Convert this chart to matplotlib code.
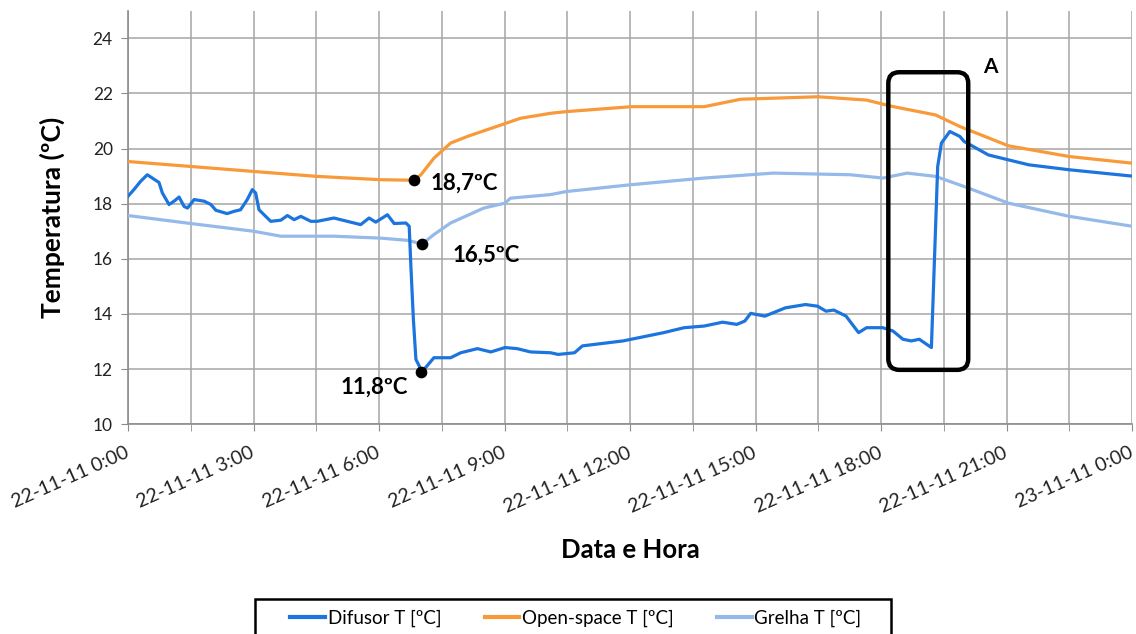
import numpy as np
import pandas as pd
import matplotlib
matplotlib.use('Agg')
import matplotlib.pyplot as plt
import matplotlib.dates as mdates
from matplotlib.patches import FancyBboxPatch, Rectangle
from matplotlib.transforms import IdentityTransform
from matplotlib.ticker import FuncFormatter

# hours after 22-11-11 0:00 and temperatures (ºC)
t_difusor = [0, 0.14, 0.30, 0.46, 0.74, 0.82, 0.98, 1.10, 1.22, 1.34, 1.42, 1.58, 1.82, 1.98,
             2.10, 2.37, 2.53, 2.69, 2.85, 2.97, 3.05, 3.13, 3.41, 3.65, 3.81, 3.97, 4.13, 4.37,
             4.52, 4.92, 5.24, 5.56, 5.76, 5.92, 6.20, 6.36, 6.64, 6.72, 6.76, 6.82, 6.88, 6.96,
             7.01, 7.11, 7.31, 7.71, 7.95, 8.35, 8.67, 9.01, 9.30, 9.62, 10.1, 10.28, 10.67,
             10.86, 11.83, 12.8, 13.29, 13.77, 14.21, 14.55, 14.74, 14.88, 15.22, 15.71, 16.19,
             16.48, 16.68, 16.87, 17.16, 17.46, 17.65, 18.04, 18.28, 18.52, 18.72, 18.91, 19.2,
             19.35, 19.44, 19.64, 19.88, 19.98, 20.56, 21.04, 21.53, 22.5, 24.0]
v_difusor = [18.27, 18.51, 18.81, 19.05, 18.77, 18.39, 17.97, 18.09, 18.24, 17.9, 17.84, 18.15,
             18.09, 17.97, 17.76, 17.64, 17.72, 17.78, 18.15, 18.51, 18.39, 17.78, 17.36, 17.40,
             17.57, 17.42, 17.54, 17.36, 17.36, 17.48, 17.36, 17.24, 17.48, 17.33, 17.60, 17.28,
             17.30, 17.18, 15.73, 13.8, 12.35, 12.11, 11.89, 12.05, 12.41, 12.41, 12.59, 12.74,
             12.62, 12.78, 12.74, 12.62, 12.59, 12.53, 12.59, 12.84, 13.02, 13.32, 13.5, 13.56,
             13.7, 13.62, 13.74, 14.02, 13.92, 14.22, 14.34, 14.28, 14.1, 14.14, 13.92, 13.32,
             13.5, 13.5, 13.38, 13.08, 13.02, 13.08, 12.78, 19.35, 20.2, 20.62, 20.44, 20.26,
             19.77, 19.59, 19.41, 19.23, 19.0]

t_open = [0, 1.5, 3.0, 4.52, 6.04, 6.84, 7.0, 7.31, 7.71, 8.11, 8.92, 9.38, 10.1, 10.47,
          12.03, 13.77, 14.64, 16.49, 17.65, 18.23, 19.3, 19.88, 21.04, 22.5, 24.0]
v_open = [19.53, 19.35, 19.17, 18.99, 18.87, 18.85, 19.05, 19.65, 20.2, 20.44, 20.86, 21.1,
          21.28, 21.34, 21.52, 21.52, 21.79, 21.88, 21.76, 21.54, 21.22, 20.8, 20.1, 19.71, 19.47]

t_grelha = [0, 1.5, 3.0, 3.65, 4.92, 6.04, 6.68, 7.03, 7.31, 7.71, 8.5, 9.01, 9.14, 10.1,
            10.47, 12.03, 13.77, 15.42, 17.26, 18.04, 18.62, 19.3, 19.97, 21.04, 22.5, 24.0]
v_grelha = [17.57, 17.28, 17.0, 16.82, 16.82, 16.75, 16.67, 16.54, 16.88, 17.3, 17.84, 18.02,
            18.2, 18.33, 18.44, 18.69, 18.93, 19.11, 19.05, 18.93, 19.11, 18.99, 18.63, 18.02,
            17.54, 17.18]

# highlighted points and their labels
pt_hours = [6.84, 7.03, 7.01]
pt_values = [18.85, 16.54, 11.89]
pt_labels = ['18,7ºC', '16,5ºC', '11,8ºC']

start = pd.Timestamp('2011-11-22 00:00')
to_dt = lambda h: start + pd.to_timedelta(np.array(h), unit='h')

plt.rcParams['font.family'] = ['Lato', 'DejaVu Sans']

fig = plt.figure(figsize=(11.36, 6.34), dpi=100)
ax = fig.add_axes([0.1127, 0.331, 0.884, 0.652])

c_dif = '#1C74DE'
c_open = '#F8993A'
c_grel = '#95B9E8'

ax.plot(to_dt(t_difusor), v_difusor, color=c_dif, lw=2.3, label='Difusor T [ºC]', zorder=4)
ax.plot(to_dt(t_open), v_open, color=c_open, lw=2.3, label='Open-space T [ºC]', zorder=3)
ax.plot(to_dt(t_grelha), v_grelha, color=c_grel, lw=2.3, label='Grelha T [ºC]', zorder=3)

ax.scatter(to_dt(pt_hours), pt_values, s=55, color='black', zorder=6)
lbl_offsets = [(12, -2), (22, -8), (-10, -11)]
lbl_ha = ['left', 'left', 'right']
for h, v, s, off, ha in zip(pt_hours, pt_values, pt_labels, lbl_offsets, lbl_ha):
    ax.annotate(s, (to_dt([h])[0], v), xytext=off, textcoords='offset points',
                ha=ha, va='center', fontsize=16, fontweight='bold', zorder=7)

ax.set_xlim(start, start + pd.Timedelta(hours=24))
ax.set_ylim(10, 25)
ax.set_yticks(np.arange(10, 25, 2))


def fmt(x, pos):
    d = mdates.num2date(x)
    return '%s %d:%02d' % (d.strftime('%d-%m-%y'), d.hour, d.minute)


ax.set_xticks([mdates.date2num(to_dt([h])[0]) for h in range(0, 25, 3)])
ax.set_xticks([mdates.date2num(to_dt([h])[0]) for h in np.arange(1.5, 24, 3)], minor=True)
ax.xaxis.set_major_formatter(FuncFormatter(fmt))

ax.grid(True, which='both', axis='x', color='#a6a6a6', lw=1.1)
ax.grid(True, which='major', axis='y', color='#a6a6a6', lw=1.1)
ax.set_axisbelow(True)
for s in ['top', 'right']:
    ax.spines[s].set_visible(False)
for s in ['left', 'bottom']:
    ax.spines[s].set_color('#8c8c8c')
    ax.spines[s].set_linewidth(1.2)
ax.tick_params(axis='both', which='both', direction='out', length=5, color='#8c8c8c',
               labelcolor='#222222')
ax.tick_params(axis='y', pad=6, labelsize=12.5)
ax.tick_params(axis='x', pad=15, labelsize=14)
plt.setp(ax.get_xticklabels(), rotation=24, ha='right', va='center', rotation_mode='anchor')

ax.set_ylabel('Temperatura (ºC)', fontsize=19, fontweight='bold', labelpad=20)
fig.text(0.555, 0.132, 'Data e Hora', fontsize=18.5, fontweight='bold', ha='center', va='center')

# box "A", drawn in pixel space so the corners stay round
p0 = ax.transData.transform((mdates.date2num(to_dt([18.17])[0]), 11.97))
p1 = ax.transData.transform((mdates.date2num(to_dt([20.08])[0]), 22.77))
box = FancyBboxPatch((p0[0], p0[1]), p1[0] - p0[0], p1[1] - p0[1],
                     boxstyle='round,pad=0,rounding_size=11', fill=False, lw=3.2,
                     ec='black', transform=IdentityTransform(), zorder=8)
fig.add_artist(box)
ax.text(to_dt([20.6])[0], 22.95, 'A', fontsize=15, fontweight='bold', ha='center', va='center')

leg = fig.legend(loc='center', bbox_to_anchor=(0.507, 0.025), ncol=3, frameon=False,
                 fontsize=13.5, handlelength=1.85, handletextpad=0.15, columnspacing=2.3,
                 borderpad=0, borderaxespad=0)
for ln in leg.get_lines():
    ln.set_linewidth(3)
# legend frame runs past the bottom edge as in the original
fig.add_artist(Rectangle((255 / 1136, -0.05), (891 - 255) / 1136, 0.05 + (634 - 599) / 634,
                         transform=fig.transFigure, fill=False, ec='black', lw=1.8))

fig.savefig('out.png', dpi=100)
